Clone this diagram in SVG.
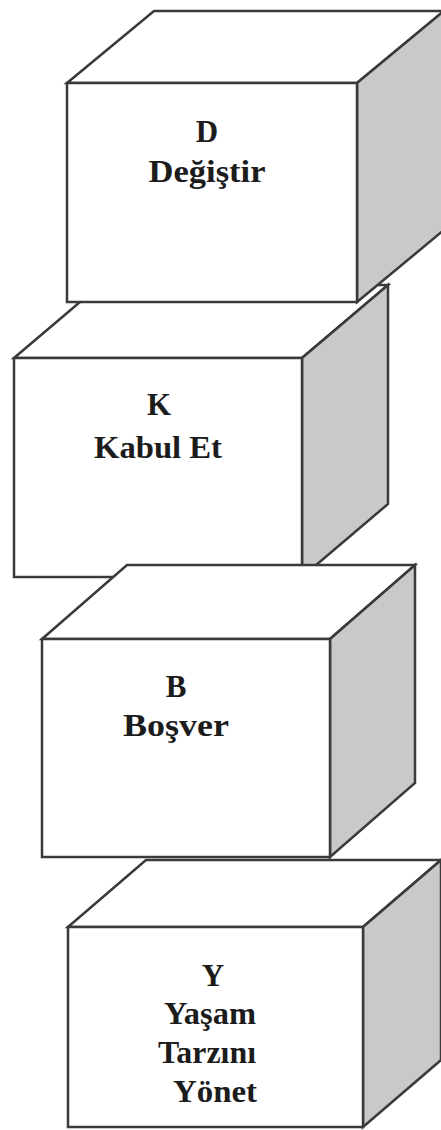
<svg xmlns="http://www.w3.org/2000/svg" width="441" height="1130" viewBox="0 0 441 1130">
<style>
.f{fill:#ffffff;stroke:#3a3a3a;stroke-width:2.5;stroke-linejoin:miter}
.s{fill:#c9c9c9;stroke:#3a3a3a;stroke-width:2.5;stroke-linejoin:miter}
.t{font-family:"Liberation Serif","Times New Roman",serif;font-weight:bold;font-size:31px;fill:#1c1c1c;text-anchor:middle}
</style>
<rect width="441" height="1130" fill="#ffffff"/>
<g id="box-K">
<polygon class="f" points="14,358 100,285 388,285 302,358"/>
<polygon class="s" points="302,358 388,285 388,504 302,577"/>
<rect class="f" x="14" y="358" width="288" height="219"/>
<text class="t" x="159" y="415">K</text>
<text class="t" x="158" y="458" textLength="128" lengthAdjust="spacingAndGlyphs">Kabul Et</text>
</g>
<g id="box-D">
<polygon class="f" points="67,83 154,11 444,11 357,83"/>
<polygon class="s" points="357,83 444,11 444,230 357,302"/>
<rect class="f" x="67" y="83" width="290" height="219"/>
<text class="t" x="207" y="142">D</text>
<text class="t" x="207" y="182" textLength="117" lengthAdjust="spacingAndGlyphs">Değiştir</text>
</g>
<g id="box-Y">
<polygon class="f" points="68,927 146,860 441,860 363,927"/>
<polygon class="s" points="363,927 441,860 441,1060 363,1127"/>
<rect class="f" x="68" y="927" width="295" height="200"/>
<text class="t" x="213" y="986">Y</text>
<text class="t" x="210" y="1024" textLength="92" lengthAdjust="spacingAndGlyphs">Yaşam</text>
<text class="t" x="207" y="1063" textLength="98" lengthAdjust="spacingAndGlyphs">Tarzını</text>
<text class="t" x="215" y="1102" textLength="84" lengthAdjust="spacingAndGlyphs">Yönet</text>
</g>
<g id="box-B">
<polygon class="f" points="42,639 127,565 415,565 330,639"/>
<polygon class="s" points="330,639 415,565 415,783 330,857"/>
<rect class="f" x="42" y="639" width="288" height="218"/>
<text class="t" x="176" y="697">B</text>
<text class="t" x="176" y="736" textLength="106" lengthAdjust="spacingAndGlyphs">Boşver</text>
</g>
<g id="connectors"></g>
</svg>
